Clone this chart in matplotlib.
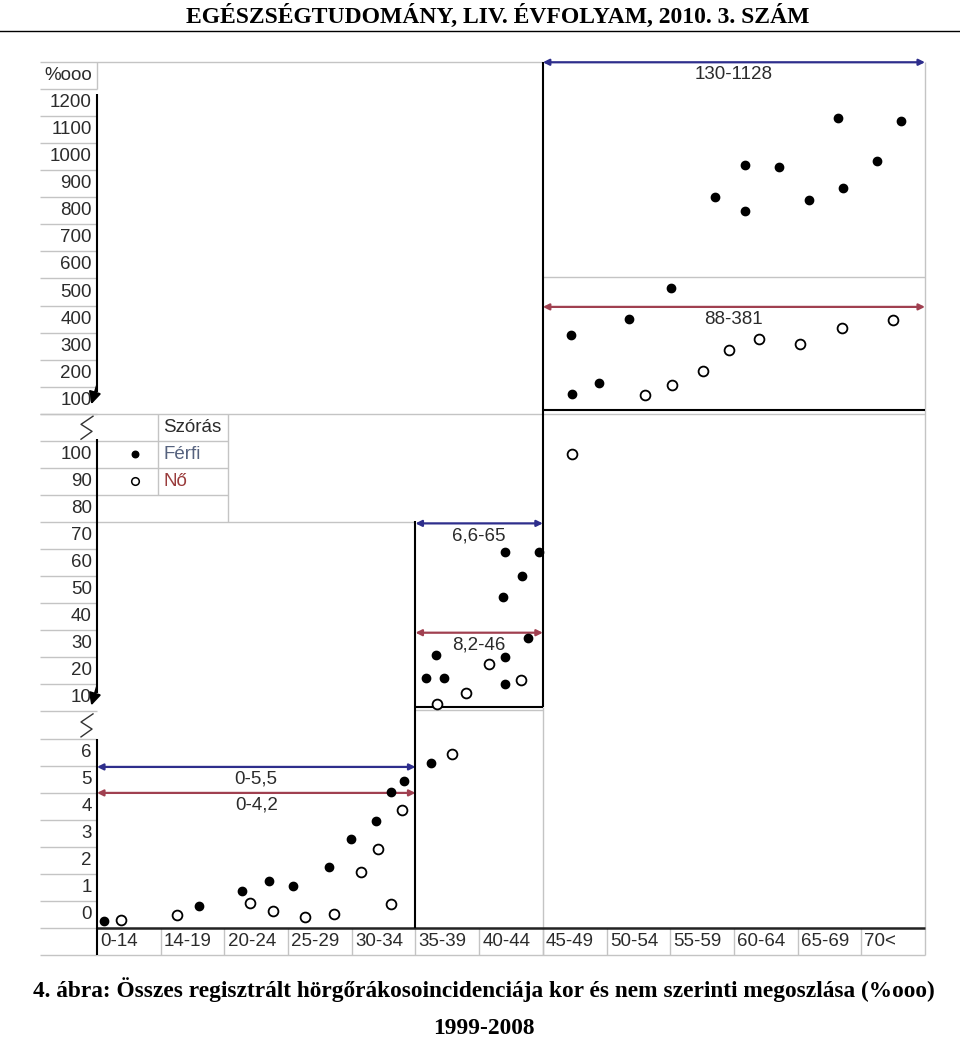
import numpy as np
import matplotlib.pyplot as plt
from matplotlib.lines import Line2D

# --- adatok ---
korcsoportok = ['0-14', '14-19', '20-24', '25-29', '30-34', '35-39', '40-44',
                '45-49', '50-54', '55-59', '60-64', '65-69', '70<']

# a megtört y tengely három skálája
also_tick = [0, 1, 2, 3, 4, 5, 6]
kozep_tick = [10, 20, 30, 40, 50, 60, 70, 80, 90, 100]
felso_tick = [100, 200, 300, 400, 500, 600, 700, 800, 900, 1000, 1100, 1200]

# Férfi pontok (x: korcsoport egységben, y: %ooo)
ferfi_also_x = [0.11, 1.60, 2.28, 2.70, 3.07, 3.65, 3.99, 4.38, 4.62, 4.82, 5.24]
ferfi_also_y = [-0.25, 0.30, 0.86, 1.22, 1.05, 1.75, 2.80, 3.47, 4.52, 4.93, 5.58]
ferfi_kozep_x = [5.17, 5.32, 5.45, 6.38, 6.41, 6.41, 6.41, 6.68, 6.76, 6.94]
ferfi_kozep_y = [17.5, 25.8, 17.5, 47.4, 63.8, 25.1, 15.1, 55.2, 32.1, 63.8]
ferfi_felso_x = [7.44, 7.46, 7.88, 8.36, 9.01, 9.71, 10.18, 10.18, 10.70, 11.18,
                 11.63, 11.72, 12.24, 12.62]
ferfi_felso_y = [341, 122, 164, 399, 516, 852, 969, 799, 963, 840,
                 1144, 886, 986, 1133]

# Nő pontok
no_also_x = [0.38, 1.25, 2.40, 2.77, 3.27, 3.72, 4.14, 4.41, 4.62, 4.79, 5.57]
no_also_y = [-0.22, -0.03, 0.42, 0.12, -0.10, 0.03, 1.56, 2.43, 0.38, 3.84, 5.91]
no_kozep_x = [5.34, 5.79, 6.16, 6.66, 7.46]
no_kozep_y = [7.9, 12.0, 22.6, 16.8, 100.0]
no_felso_x = [8.61, 9.03, 9.52, 9.93, 10.40, 11.03, 11.70, 12.50]
no_felso_y = [120, 156, 207, 284, 326, 309, 367, 396]

# szórás tartományok: (felirat, x kezdet, x vég, sor)
szoras_ferfi = [('130-1128', 7, 13, 31.04), ('6,6-65', 5, 7, 14.0), ('0-5,5', 0, 5, 5.0)]
szoras_no = [('88-381', 7, 13, 22.0), ('8,2-46', 5, 7, 9.96), ('0-4,2', 0, 5, 4.04)]


def sor(v, resz):
    v = np.asarray(v, dtype=float)
    if resz == 'also':
        return v
    if resz == 'kozep':
        return 7 + v / 10
    return 18 + v / 100


SZURKE = '#c4c4c4'
KEK = '#2e2e8c'
PIROS = '#a04050'
FONT = 'Liberation Sans'
XL = -0.895

fig = plt.figure(figsize=(9.6, 10.41), dpi=100)
ax = fig.add_axes([40 / 960, 1 - 955 / 1041, 885 / 960, 893 / 1041])
ax.set_xlim(XL, 13)
ax.set_ylim(-1.5, 31.5)
ax.set_axis_off()


def vonal(x, y, c=SZURKE, lw=1.0, z=1):
    ax.plot(x, y, color=c, lw=lw, zorder=z, solid_capstyle='butt', clip_on=False)


# y felirat oszlop rácsvonalai
for k in np.arange(-1.5, 31, 1.0):
    vonal([XL, 0], [k, k])
vonal([XL, 7], [31.5, 31.5])
vonal([XL, 13], [18.5, 18.5])
for k in [17.5, 16.5, 15.5]:
    vonal([0, 2.06], [k, k])
vonal([0, 5], [14.5, 14.5])
vonal([2.06, 2.06], [14.5, 18.5])
vonal([0.96, 0.96], [15.5, 18.5])
vonal([7, 13], [23.56, 23.56])
vonal([0, 0], [30.5, 31.5])
vonal([13, 13], [-1.5, 31.5])
vonal([7, 7], [-1.5, 7.67])
vonal([5, 7], [7.55, 7.55])
vonal([0, 13], [-1.5, -1.5])
for i in range(1, 13):
    vonal([i, i], [-1.5, -0.5])

# fekete keretek
vonal([0, 13], [-0.5, -0.5], c='#222222', lw=1.8, z=3)
vonal([5, 5], [-0.5, 14.52], c='black', lw=1.5, z=3)
vonal([7, 7], [7.67, 31.5], c='black', lw=1.5, z=3)
vonal([5, 7], [7.67, 7.67], c='black', lw=1.5, z=3)
vonal([7, 13], [18.65, 18.65], c='black', lw=1.5, z=3)

# megtört y tengely
vonal([0, 0], [-1.5, 6.5], c='black', lw=1.5, z=3)
for felso, also in [(17.55, 7.72), (30.3, 18.85)]:
    vonal([0, 0], [felso, also + 0.45], c='black', lw=1.5, z=3)
    ax.annotate('', xy=(-0.09, also), xytext=(0, also + 0.7),
                arrowprops=dict(arrowstyle='-|>', color='black', lw=1.5,
                                mutation_scale=18, shrinkA=0, shrinkB=0))
for t in [7, 18]:
    ax.plot([-0.063, -0.251, -0.078, -0.251], [t + 0.41, t + 0.11, t - 0.15, t - 0.44],
            color='#333333', lw=1.0, clip_on=False)

# tengelyfeliratok
txt = dict(fontfamily=FONT, fontsize=13.5, color='#2b2b2b')
for v in also_tick:
    ax.text(-0.08, sor(v, 'also'), str(v), ha='right', va='center', **txt)
for v in kozep_tick:
    ax.text(-0.08, sor(v, 'kozep'), str(v), ha='right', va='center', **txt)
for v in felso_tick:
    ax.text(-0.08, sor(v, 'felso'), str(v), ha='right', va='center', **txt)
ax.text(-0.08, 31, '%ooo', ha='right', va='center', **txt)
for i, k in enumerate(korcsoportok):
    ax.text(i + 0.05, -1.0, k, ha='left', va='center', **txt)

# pontok
for xs, ys, resz in [(ferfi_also_x, ferfi_also_y, 'also'),
                     (ferfi_kozep_x, ferfi_kozep_y, 'kozep'),
                     (ferfi_felso_x, ferfi_felso_y, 'felso')]:
    ax.scatter(xs, sor(ys, resz), s=36, color='black', zorder=5, clip_on=False)
for xs, ys, resz in [(no_also_x, no_also_y, 'also'),
                     (no_kozep_x, no_kozep_y, 'kozep'),
                     (no_felso_x, no_felso_y, 'felso')]:
    ax.scatter(xs, sor(ys, resz), s=50, facecolor='white', edgecolor='black',
               linewidth=1.3, zorder=5, clip_on=False)

# szórás nyilak
for lista, szin in [(szoras_ferfi, KEK), (szoras_no, PIROS)]:
    for felirat, x0, x1, r in lista:
        ax.annotate('', xy=(x1, r + 0.45), xytext=(x0, r + 0.45),
                    arrowprops=dict(arrowstyle='<|-|>', color=szin, lw=1.6,
                                    mutation_scale=9, shrinkA=0, shrinkB=0),
                    zorder=4)
        ax.text((x0 + x1) / 2, r, felirat, ha='center', va='center', **txt)

# jelmagyarázat
ax.text(1.04, 18, 'Szórás', ha='left', va='center', **txt)
ax.scatter([0.6], [17], s=22, color='black', clip_on=False)
ax.scatter([0.6], [16], s=30, facecolor='white', edgecolor='black', linewidth=1.1,
           clip_on=False)
ax.text(1.04, 17, 'Férfi', ha='left', va='center', fontfamily=FONT, fontsize=13.5,
        color='#56627e')
ax.text(1.04, 16, 'Nő', ha='left', va='center', fontfamily=FONT, fontsize=13.5,
        color='#9a3c3c')

# fejléc és képaláírás
fig.text(0.518, 1 - 16 / 1041, 'EGÉSZSÉGTUDOMÁNY, LIV. ÉVFOLYAM, 2010. 3. SZÁM',
         ha='center', va='center', fontfamily='Liberation Serif', fontweight='bold',
         fontsize=17)
fig.add_artist(Line2D([0, 1], [1 - 31 / 1041] * 2, color='black', lw=1.0))
fig.text(0.504, 1 - 990 / 1041,
         '4. ábra: Összes regisztrált hörgőrákosoincidenciája kor és nem szerinti megoszlása (%ooo)',
         ha='center', va='center', fontfamily='Liberation Serif', fontweight='bold',
         fontsize=16.8)
fig.text(0.504, 1 - 1029 / 1041, '1999-2008', ha='center', va='center',
         fontfamily='Liberation Serif', fontweight='bold', fontsize=16.8)

plt.savefig('out.png', dpi=100)
